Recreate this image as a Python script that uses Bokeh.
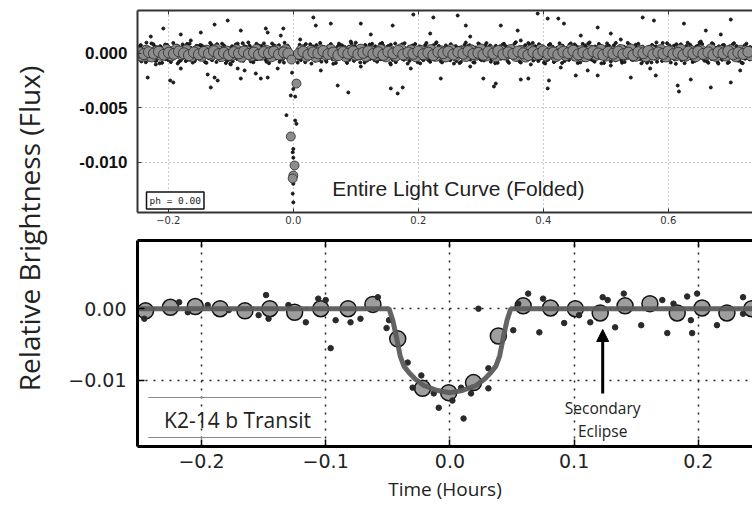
import numpy as np
from bokeh.plotting import figure
from bokeh.layouts import row, column
from bokeh.models import (Range1d, FixedTicker, LinearAxis, CustomJSTickFormatter,
                          Label, Arrow, NormalHead)
from bokeh.embed import file_html
from bokeh.resources import INLINE

# ---------------- DATA ----------------
# Top panel: entire folded light curve. phase in 1e-3, flux in 1e-5
band_phase = [-249,-246,-244,-241,-238,-236,-233,-230,-227,-225,-222,-219,-216,-214,-211,-208,-205,-203,-200,-197,-194,-192,-189,-186,-183,-181,-178,-175,-172,-170,-167,-164,-161,-159,-156,-153,
    -150,-147,-145,-142,-139,-136,-134,-131,-128,-125,-123,-120,-117,-114,-112,-109,-106,-103,-101,-98,-95,-92,-90,-87,-84,-81,-79,-76,-73,-70,-68,-65,-62,-59,-57,-54,
    -51,-48,-45,-43,-40,-37,-34,-32,-29,-26,-23,-21,-18,-15,-12,-10,-7,8,10,13,16,19,21,24,27,30,32,35,38,41,43,46,49,
    52,54,57,60,63,65,68,71,74,76,79,82,85,87,90,93,96,98,101,104,107,109,112,115,118,120,123,126,129,131,134,137,140,142,145,148,
    151,153,156,159,162,164,167,170,173,175,178,181,184,186,189,192,195,197,200,203,206,208,211,214,217,219,222,225,228,230,233,236,239,241,244,247,
    250,252,255,258,261,263,266,269,272,274,277,280,283,285,288,291,294,296,299,302,305,307,310,313,316,318,321,324,327,329,332,335,338,340,343,346,
    349,351,354,357,360,362,365,368,371,373,376,379,382,384,387,390,393,395,398,401,404,406,409,412,415,417,420,423,426,428,431,434,437,439,442,445,
    448,450,453,456,459,461,464,467,470,472,475,478,481,483,486,489,492,494,497,500,503,505,508,511,514,516,519,522,525,527,530,533,536,538,541,544,
    547,549,552,555,558,560,563,566,569,571,574,577,580,582,585,588,591,593,596,599,602,604,607,610,613,615,618,621,624,626,629,632,635,637,640,643,
    646,648,651,654,657,659,662,665,668,670,673,676,679,681,684,687,690,692,695,698,701,703,706,709,712,714,717,720,723,725,728,731]
band_flux = [45,-60,72,-38,55,-85,30,-52,88,-40,62,-70,35,-95,50,-45,78,-33,-65,41,-58,92,-36,67,-80,28,-49,58,-74,83,-31,46,-88,37,-55,64,
    -42,70,-58,33,-90,51,-36,75,-47,60,-82,29,-64,86,-39,53,-71,44,-98,62,-30,79,-55,38,-67,90,-44,57,-35,68,-77,40,-60,84,-48,31,
    66,-38,50,-79,34,-55,87,-46,61,-33,72,-63,41,-88,55,-29,48,-52,76,-40,63,-84,36,-57,80,-45,58,-70,32,-61,93,-37,54,
    -66,44,-35,82,-58,39,-91,60,-43,71,-30,56,-77,47,-62,89,-38,65,-50,34,-86,52,-41,74,-69,30,-54,85,-33,61,-79,43,-57,92,-46,37,
    58,-40,77,-63,35,-84,49,-31,68,-56,90,-45,39,-72,61,-37,83,-50,44,-95,30,-66,73,-42,55,-81,36,-59,87,-34,64,-76,47,-53,70,-39,
    -48,81,-36,59,-73,42,-92,53,-44,75,-31,64,-60,38,-85,50,-39,88,-57,33,-68,71,-46,57,-80,40,-34,66,-90,45,-52,78,-37,62,-75,36,
    54,-43,86,-61,37,-78,49,-32,72,-55,91,-47,35,-69,63,-40,80,-53,46,-88,31,-64,74,-38,58,-83,39,-51,89,-36,67,-74,42,-58,77,-33,
    -57,79,-42,51,-86,34,-63,70,-39,88,-52,45,-74,60,-30,83,-48,37,-91,56,-35,67,-78,41,-54,93,-44,62,-69,33,-82,48,-37,76,-59,40,
    63,-36,85,-55,42,-71,31,-89,57,-46,74,-33,60,-80,48,-39,92,-62,35,-50,69,-87,44,-58,81,-41,53,-66,38,-93,65,-34,76,-52,47,-72,
    -45,68,-38,83,-60,36,-77,52,-31,90,-49,43,-84,61,-40,72,-56,34,-92,58,-43,79,-35,64,-70,47,-88,39,-53,86,-37,55]

band2_phase = [-248,-245,-243,-240,-237,-235,-232,-229,-226,-224,-221,-218,-215,-213,-210,-207,-204,-202,-199,-196,-193,-191,-188,-185,-182,-180,-177,-174,-171,-169,-166,-163,-160,-158,-155,-152,
    -149,-146,-144,-141,-138,-135,-133,-130,-127,-124,-122,-119,-116,-113,-111,-108,-105,-102,-100,-97,-94,-91,-89,-86,-83,-80,-78,-75,-72,-69,-67,-64,-61,-58,-56,-53,
    -50,-47,-44,-42,-39,-36,-33,-31,-28,-25,-22,-20,-17,-14,-11,-9,7,9,12,15,18,20,23,26,29,31,34,37,40,42,45,48,
    51,53,56,59,62,64,67,70,73,75,78,81,84,86,89,92,95,97,100,103,106,108,111,114,117,119,122,125,128,130,133,136,139,141,144,147,
    150,152,155,158,161,163,166,169,172,174,177,180,183,185,188,191,194,196,199,202,205,207,210,213,216,218,221,224,227,229,232,235,238,240,243,246,
    249,251,254,257,260,262,265,268,271,273,276,279,282,284,287,290,293,295,298,301,304,306,309,312,315,317,320,323,326,328,331,334,337,339,342,345,
    348,350,353,356,359,361,364,367,370,372,375,378,381,383,386,389,392,394,397,400,403,405,408,411,414,416,419,422,425,427,430,433,436,438,441,444,
    447,449,452,455,458,460,463,466,469,471,474,477,480,482,485,488,491,493,496,499,502,504,507,510,513,515,518,521,524,526,529,532,535,537,540,543,
    546,548,551,554,557,559,562,565,568,570,573,576,579,581,584,587,590,592,595,598,601,603,606,609,612,614,617,620,623,625,628,631,634,636,639,642,
    645,647,650,653,656,658,661,664,667,669,672,675,678,680,683,686,689,691,694,697,700,702,705,708,711,713,716,719,722,724,727,730,733]
band2_flux = [-25,68,-77,40,-33,95,-61,27,-44,81,-70,52,-26,63,-90,34,-57,74,22,-83,47,-29,60,-96,38,-68,79,-24,51,-62,85,-42,30,-75,66,-31,
    73,-27,58,-84,26,-49,93,-66,35,-22,81,-53,47,-35,69,-92,24,-60,39,-76,55,-28,86,-45,30,-71,62,-38,97,-24,44,-85,28,-57,71,-43,
    -33,88,-62,27,-94,45,-26,70,-51,36,-81,23,-58,94,-39,67,-88,29,-65,47,-24,82,-53,38,-97,60,-30,73,-46,25,-79,52,
    29,-80,63,-24,47,-99,35,-55,86,-29,70,-47,25,-91,58,-33,41,-72,95,-26,64,-43,31,-87,54,-38,77,-22,49,-66,26,-59,83,-34,68,-51,
    -28,65,-93,24,-58,87,-35,44,-26,79,-62,32,-97,55,-23,69,-40,28,-85,61,-47,36,-27,92,-64,25,-44,71,-31,98,-50,23,-86,37,-66,57,
    34,-66,27,-97,63,-23,45,-82,31,-52,96,-37,72,-27,58,-88,23,-46,79,-65,26,-39,91,-25,69,-56,33,-94,48,-28,62,-43,85,-22,55,-90,
    -26,60,-44,99,-31,27,-87,50,-63,24,-41,78,-22,93,-55,32,-74,64,-28,41,-96,22,-59,83,-36,28,-70,47,-24,65,-91,37,-46,26,-63,88,
    41,-24,67,-92,29,-48,84,-33,55,-26,97,-61,22,-79,43,-37,66,-95,27,-54,88,-30,49,-23,71,-67,34,-45,23,-89,58,-29,93,-40,25,-64,
    -23,76,-50,31,-95,58,-27,44,-68,22,-86,63,-35,97,-24,52,-73,28,-42,90,-60,25,-31,67,-99,38,-25,80,-57,29,-47,94,-22,61,-83,33,
    62,-29,95,-44,23,-71,38,-90,27,-55,81,-24,49,-97,30,-62,73,-33,26,-84,57,-22,90,-48,35,-66,24,-93,70,-31,44,-59,28]

outlier_phase = [-208,-105,-126,-148,-44,-41,-16,-180,-228,-84,32,60,36,108,159,192,224,263,276,332,359,391,407,424,433,487,559,577,625,700,660,508,-20,219,124,283,460,684,
    -233,-197,-192,-132,-137,-126,-121,-89,-78,-60,-52,-25,-84,-41,71,88,156,167,175,236,304,321,324,364,376,407,409,452,471,487,540,580,615,617,636,668,700,44,108,188,283,428,571,715,-180,-220,
    -164,11,92,364,524,652,-100,156,508,380]
outlier_flux = [225,298,261,188,225,188,225,170,151,206,326,270,252,270,252,353,326,344,252,252,206,362,316,316,270,234,326,298,270,307,206,179,160,179,170,151,160,170,
    -225,-252,-270,-316,-197,-225,-252,-142,-160,-188,-234,-142,-234,-225,-298,-362,-325,-371,-316,-234,-234,-307,-280,-243,-234,-325,-252,-206,-160,-206,-225,-206,-298,-353,-243,-316,-270,-160,-124,-142,-124,-133,-142,-160,-142,-105,
    115,124,105,115,124,105,-105,-105,-115,-105]

bin_phase = [-247,-239,-231,-223,-215,-207,-199,-191,-183,-175,-167,-159,-151,-143,-135,-127,-119,-111,-103,-95,-87,-79,-71,-63,-55,-47,-39,-31,-23,-15,-8,
    9,16,24,32,40,48,56,64,72,80,88,96,104,112,120,128,136,144,152,160,168,176,184,192,200,208,216,224,232,240,248,256,264,272,280,288,296,304,312,320,
    328,336,344,352,360,368,376,384,392,400,408,416,424,432,440,448,456,464,472,480,488,496,504,512,520,528,536,544,552,560,568,576,584,592,600,608,616,
    624,632,640,648,656,664,672,680,688,696,704,712,720,728]
bin_flux = [5,-10,8,-5,12,-15,3,-8,15,-3,-20,6,-12,10,-6,18,-10,2,-18,8,-4,14,-9,4,-16,9,-2,12,-13,6,-5,
    -8,12,-15,6,-3,18,-10,4,-20,9,-6,14,-12,2,16,-9,7,-17,11,-4,20,-13,5,-7,15,-11,3,-19,10,-2,
    13,-14,8,-6,17,-9,1,-16,12,-5,19,-12,6,-8,14,-3,-18,9,-10,16,-7,4,-15,11,-1,21,-13,7,-9,15,
    -4,-17,10,-6,13,-11,3,-20,8,-2,18,-14,5,-7,16,-10,2,-19,12,-5,14,-8,6,-16,9,-3,17,-12,4,-9,11]

bin2_phase = [-243,-235,-227,-219,-211,-203,-195,-187,-179,-171,-163,-155,-147,-139,-131,-123,-115,-107,-99,-91,-83,-75,-67,-59,-51,-43,-35,-27,-19,-12,
    13,20,28,36,44,52,60,68,76,84,92,100,108,116,124,132,140,148,156,164,172,180,188,196,204,212,220,228,236,244,252,260,268,276,284,292,300,308,316,324,
    332,340,348,356,364,372,380,388,396,404,412,420,428,436,444,452,460,468,476,484,492,500,508,516,524,532,540,548,556,564,572,580,588,596,604,612,620,
    628,636,644,652,660,668,676,684,692,700,708,716,724,732]
bin2_flux = [-25,20,-32,15,-18,28,-22,30,-12,25,-30,18,-26,22,-15,32,-28,14,-20,27,-33,16,-24,29,-17,21,-31,24,-14,26,
    23,-28,19,-33,26,-16,30,-24,14,-29,22,-19,31,-27,17,-22,28,-31,15,-25,33,-18,24,-30,20,-14,27,-26,16,-32,
    29,-21,13,-28,25,-17,32,-23,18,-30,21,-15,28,-27,19,-33,24,-16,30,-22,14,-29,26,-20,31,-25,17,-31,22,-18,
    29,-24,15,-28,27,-13,32,-26,20,-30,23,-17,28,-32,16,-21,30,-25,18,-29,24,-14,33,-27,19,-23,26,-31,21,17,-20]

transit_bin_phase = [5, -4, 2, 0, -1, -3]
transit_bin_flux = [-280, -766, -1032, -1124, -1151, -60]
transit_pt_phase = [-4, 3, -11, 3, 5, 0, -1, 0, 0, 0, -2, 0, 1, -1]
transit_pt_flux = [-390, -400, -570, -620, -650, -880, -910, -960, -1200, -1370, -180, -330, -1050, -1290]

# Bottom panel: zoom on the transit. time in hours, relative flux
zbin_time = [-0.245,-0.225,-0.205,-0.185,-0.165,-0.145,-0.125,-0.104,-0.082,-0.062,-0.042,-0.022,-0.001,
             0.019,0.039,0.059,0.081,0.101,0.121,0.141,0.161,0.183,0.203,0.223,0.243]
zbin_flux = [-0.0003,0.0002,0.0003,0.0,-0.0003,0.0,-0.0005,0.0,0.0,0.0006,-0.0042,-0.0111,-0.0117,
             -0.0103,-0.0038,0.0004,0.0001,0.0,-0.0006,0.0004,0.0007,-0.0006,0.0001,-0.0006,0.0]
zpt_time = [-0.246,-0.218,-0.211,-0.195,-0.178,-0.154,-0.148,-0.146,-0.130,-0.116,-0.106,-0.100,-0.096,-0.092,
            -0.080,-0.072,-0.058,-0.049,-0.051,-0.034,-0.023,-0.030,-0.013,-0.009,0.002,0.009,0.011,0.017,
            0.031,0.031,0.023,0.051,0.055,0.063,0.072,0.075,0.092,0.104,0.113,0.123,0.127,0.133,0.140,0.154,
            0.171,0.175,0.180,0.191,0.194,0.195,0.199,0.215,0.236,0.236]
zpt_flux = [-0.0014,0.0009,-0.0005,0.0005,-0.0002,-0.0009,0.0019,-0.0014,0.0005,-0.0019,0.0014,0.0012,-0.0055,-0.0016,
            -0.0019,-0.0014,0.0016,-0.0016,-0.0027,-0.0075,-0.0093,-0.0110,-0.0118,-0.0138,-0.0128,-0.0110,-0.0153,-0.0118,
            -0.0083,-0.0111,0.0000,-0.0030,0.0007,0.0021,-0.0033,0.0014,-0.0020,-0.0009,-0.0019,0.0016,0.0012,-0.0026,0.0021,-0.0023,
            0.0012,-0.0034,0.0007,0.0017,-0.0016,-0.0034,0.0021,-0.0023,0.0016,-0.0007]
model_time = [-0.26,-0.049,-0.046,-0.043,-0.040,-0.037,-0.033,-0.028,-0.021,-0.010,0.0,0.010,0.021,0.028,0.033,0.037,0.040,0.043,0.046,0.049,0.26]
model_flux = [0.0,0.0,-0.0016,-0.0040,-0.0066,-0.0080,-0.0089,-0.0098,-0.0107,-0.0114,-0.0117,-0.0114,-0.0107,-0.0098,-0.0089,-0.0080,-0.0066,-0.0040,-0.0016,0.0,0.0]

top_xticks = [-0.2, 0.0, 0.2, 0.4, 0.6]
top_yticks = [-0.010, -0.005, 0.0]
bot_xticks = [-0.2, -0.1, 0.0, 0.1, 0.2]
bot_yticks = [-0.01, 0.0]


def pair(a, b, sa, sb):
    n = min(len(a), len(b))
    return np.array(a[:n]) * sa, np.array(b[:n]) * sb


FONT = "Open Sans"

# ---------------- TOP PANEL ----------------
top = figure(width=692, height=230, output_backend="svg", toolbar_location=None,
             x_range=Range1d(-0.2493, 0.7347), y_range=Range1d(-0.01463, 0.0039),
             min_border_left=77, min_border_right=0, min_border_top=10, min_border_bottom=18)
top.outline_line_color = None

bx, by = pair(band_phase, band_flux, 1e-3, 1e-5)
b2x, b2y = pair(band2_phase, band2_flux, 1e-3, 1e-5)
ox, oy = pair(outlier_phase, outlier_flux, 1e-3, 1e-5)
gx, gy = pair(bin_phase, bin_flux, 1e-3, 1e-5)
g2x, g2y = pair(bin2_phase, bin2_flux, 1e-3, 1e-5)
tgx, tgy = pair(transit_bin_phase, transit_bin_flux, 1e-3, 1e-5)
tpx, tpy = pair(transit_pt_phase, transit_pt_flux, 1e-3, 1e-5)

for xs, ys in ((bx, by), (b2x, b2y), (ox, oy), (tpx, tpy)):
    top.scatter(xs, ys, size=3, color="#1a1a1a")
top.scatter(g2x, g2y, size=11, fill_color="#8c8c8c", line_color="#2a2a2a", line_width=0.8)
top.scatter(gx, gy, size=11, fill_color="#8c8c8c", line_color="#2a2a2a", line_width=0.8)
top.scatter(tgx, tgy, size=9, fill_color="#8c8c8c", line_color="#2a2a2a", line_width=0.8)

fmt_top_x = CustomJSTickFormatter(code="return (tick < -1e-9 ? '\u2212' : '') + Math.abs(tick).toFixed(1);")
fmt_top_y = CustomJSTickFormatter(code="return (tick < -1e-9 ? '-' : '') + Math.abs(tick).toFixed(3);")

top.xaxis.ticker = FixedTicker(ticks=top_xticks)
top.yaxis.ticker = FixedTicker(ticks=top_yticks)
top.xaxis.formatter = fmt_top_x
top.yaxis.formatter = fmt_top_y
for ax in (top.xaxis[0], top.yaxis[0]):
    ax.axis_line_width = 2
    ax.axis_line_color = "#333333"
    ax.major_tick_in = 4
    ax.major_tick_out = 0
    ax.major_tick_line_color = "#333333"
    ax.minor_tick_line_color = None
top.xaxis.major_label_text_font = "DejaVu Sans"
top.xaxis.major_label_text_font_size = "10px"
top.xaxis.major_label_text_color = "#333333"
top.xaxis.major_label_standoff = 3
top.yaxis.major_label_text_font = "Liberation Sans"
top.yaxis.major_label_text_font_style = "bold"
top.yaxis.major_label_text_font_size = "17px"
top.yaxis.major_label_text_color = "#111111"
top.yaxis.major_label_standoff = 10

top_ax = LinearAxis(ticker=FixedTicker(ticks=top_xticks), axis_line_width=2, axis_line_color="#333333",
                    major_tick_in=4, major_tick_out=0, major_tick_line_color="#333333",
                    minor_tick_line_color=None, major_label_text_font_size="0px",
                    major_label_text_color=None, major_label_standoff=0)
top.add_layout(top_ax, "above")

top.xgrid.ticker = FixedTicker(ticks=top_xticks)
top.ygrid.ticker = FixedTicker(ticks=top_yticks)
top.grid.grid_line_color = "#999999"
top.grid.grid_line_dash = "1 3"
top.grid.grid_line_width = 1

top.add_layout(Label(x=0.264, y=-0.01243, text="Entire Light Curve (Folded)", text_align="center",
                     text_baseline="middle", text_font="Liberation Sans", text_font_size="21px",
                     text_color="#222222"))
top.add_layout(Label(x=-0.2349, y=-0.01353, text="ph = 0.00", text_align="left", text_baseline="middle",
                     text_font="DejaVu Sans Mono", text_font_size="9.5px", text_color="#222222",
                     border_line_color="#111111", border_line_width=1.5,
                     background_fill_color="white", padding=3))

# ---------------- BOTTOM PANEL ----------------
bot = figure(width=692, height=282, output_backend="svg", toolbar_location=None,
             x_range=Range1d(-0.2515, 0.2436), y_range=Range1d(-0.0192, 0.0095),
             min_border_left=77, min_border_right=0, min_border_top=10, min_border_bottom=66)
bot.outline_line_color = None

bot.scatter(zbin_time, zbin_flux, size=16, fill_color="#9e9e9e", line_color="#111111", line_width=1.5)
bot.scatter(zpt_time, zpt_flux, size=5.5, color="#2a2a2a")
bot.line(model_time, model_flux, line_width=5, line_color="#5c5c5c", line_alpha=0.95)

fmt_b_x = CustomJSTickFormatter(code="return (tick < -1e-9 ? '\u2212' : '') + Math.abs(tick).toFixed(1);")
fmt_b_y = CustomJSTickFormatter(code="return (tick < -1e-9 ? '\u2212' : '') + Math.abs(tick).toFixed(2);")
bot.xaxis.ticker = FixedTicker(ticks=bot_xticks)
bot.yaxis.ticker = FixedTicker(ticks=bot_yticks)
bot.xaxis.formatter = fmt_b_x
bot.yaxis.formatter = fmt_b_y
for ax in (bot.xaxis[0], bot.yaxis[0]):
    ax.axis_line_width = 3
    ax.axis_line_color = "black"
    ax.major_tick_in = 7
    ax.major_tick_out = 0
    ax.major_tick_line_width = 1.5
    ax.major_tick_line_color = "black"
    ax.minor_tick_line_color = None
    ax.major_label_text_font = "DejaVu Sans"
    ax.major_label_text_font_size = "19px"
    ax.major_label_text_color = "#222222"
bot.xaxis.major_label_standoff = 7
bot.yaxis.major_label_standoff = 11
bot.xaxis.axis_label = "Time (Hours)"
bot.xaxis.axis_label_text_font = FONT
bot.xaxis.axis_label_text_font_size = "19px"
bot.xaxis.axis_label_text_font_style = "normal"
bot.xaxis.axis_label_text_color = "#222222"
bot.xaxis.axis_label_standoff = 5

bot_ax = LinearAxis(ticker=FixedTicker(ticks=bot_xticks), axis_line_width=3, axis_line_color="black",
                    major_tick_in=7, major_tick_out=0, major_tick_line_width=1.5, major_tick_line_color="black",
                    minor_tick_line_color=None, major_label_text_font_size="0px",
                    major_label_text_color=None, major_label_standoff=0)
bot.add_layout(bot_ax, "above")

bot.xgrid.ticker = FixedTicker(ticks=bot_xticks)
bot.ygrid.ticker = FixedTicker(ticks=bot_yticks)
bot.grid.grid_line_color = "#222222"
bot.grid.grid_line_dash = "2 6"
bot.grid.grid_line_width = 1.5

# annotations
bot.add_layout(Arrow(end=NormalHead(size=12, fill_color="black", line_color="black"),
                     x_start=0.123, y_start=-0.0118, x_end=0.123, y_end=-0.0029,
                     line_width=3, line_color="black"))
bot.add_layout(Label(x=0.123, y=-0.0139, text="Secondary", text_align="center", text_baseline="middle",
                     text_font=FONT, text_font_size="15.5px", text_color="#222222"))
bot.add_layout(Label(x=0.123, y=-0.0170, text="Eclipse", text_align="center", text_baseline="middle",
                     text_font=FONT, text_font_size="15.5px", text_color="#222222"))
bot.segment(x0=[-0.2428, -0.2428], y0=[-0.01237, -0.01795], x1=[-0.1037, -0.1037], y1=[-0.01237, -0.01795],
            line_color="#888888", line_width=1)
bot.add_layout(Label(x=-0.171, y=-0.01545, text="K2-14 b Transit", text_align="center", text_baseline="middle",
                     text_font=FONT, text_font_size="21px", text_color="#222222"))

# ---------------- shared y label ----------------
lab = figure(width=60, height=512, output_backend="svg", toolbar_location=None,
             x_range=Range1d(0, 1), y_range=Range1d(0, 1), x_axis_location=None, y_axis_location=None,
             min_border=0)
lab.outline_line_color = None
lab.grid.visible = False
lab.add_layout(Label(x=0.47, y=1 - 228 / 512, text="Relative Brightness (Flux)", angle=np.pi / 2,
                     text_align="center", text_baseline="middle", text_font=FONT,
                     text_font_size="28px", text_color="#222222"))

layout = row(lab, column(top, bot))
open("out.html", "w").write(file_html(layout, INLINE))
